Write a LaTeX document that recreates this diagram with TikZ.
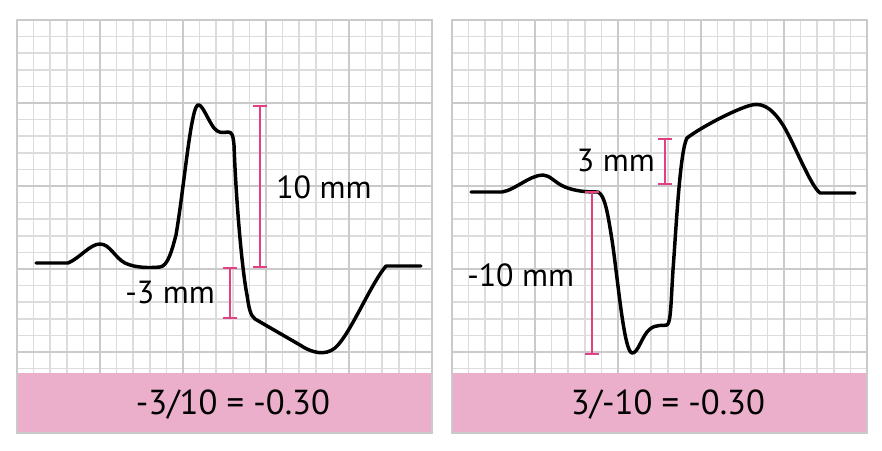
\documentclass[tikz,border=0pt]{standalone}
\usepackage{fontspec}
\setmainfont{PT Sans}
\usepackage{tikz}
\usepackage{xcolor}

\definecolor{gridminor}{RGB}{220,220,220}
\definecolor{gridmajor}{RGB}{202,202,202}
\definecolor{bandpink}{RGB}{235,175,203}
\definecolor{barpink}{RGB}{226,64,130}

\tikzset{
  minorln/.style={draw=gridminor, line width=1.1},
  majorln/.style={draw=gridmajor, line width=1.7},
  trace/.style={draw=black, line width=2.6, line join=round, line cap=round},
  mmbar/.style={draw=barpink, line width=2.1},
  lbl/.style={inner sep=0.75pt, font=\fontsize{24}{28}\selectfont},
  ratiolbl/.style={inner sep=0.75pt, font=\fontsize{26}{30}\selectfont}
}

\begin{document}
\begin{tikzpicture}[x=0.75pt,y=0.75pt,yscale=-1,xscale=1]
\useasboundingbox (0,0) rectangle (882,450);

% grid paper, both panels
\foreach \ox in {17,452}{
  \foreach \i in {0,...,25} \draw[minorln] (\ox+\i*16.6,20) -- (\ox+\i*16.6,373);
  \foreach \j in {0,...,21} \draw[minorln] (\ox,20+\j*16.6) -- (\ox+415,20+\j*16.6);
  \foreach \i in {1,...,4} \draw[majorln] (\ox+\i*83,20) -- (\ox+\i*83,373);
  \foreach \j in {1,...,4} \draw[majorln] (\ox,20+\j*83) -- (\ox+415,20+\j*83);
  %Shape: Rectangle (band)
  \fill[bandpink] (\ox,373) rectangle (\ox+415,433);
  \draw[majorln] (\ox,20) rectangle (\ox+415,433);
}

%Curve: left trace
\draw[trace] (36,263) -- (68,263) .. controls (80,258) and (90,244) .. (100,244) .. controls (110,244) and (115,258) .. (125,263) .. controls (135,268) and (150,268) .. (160,267) .. controls (168,266) and (172,250) .. (176,235) .. controls (182,200) and (188,140) .. (193,118) .. controls (195,108) and (197,104) .. (199,105) .. controls (203,106) and (208,120) .. (214,128) .. controls (218,133) and (222,133) .. (228,132) .. controls (232,132) and (233,135) .. (234,145) .. controls (236,200) and (242,270) .. (247,295) .. controls (249,308) and (250,315) .. (255,319) -- (300,345) .. controls (312,353) and (325,356) .. (335,348) .. controls (350,335) and (370,285) .. (386,266) -- (421,266) ;

%Curve: right trace
\draw[trace] (471,192) -- (502,192) .. controls (515,190) and (530,175) .. (543,175) .. controls (550,175) and (555,183) .. (565,187) .. controls (575,191) and (585,192) .. (598,192) .. controls (605,195) and (608,215) .. (612,240) .. controls (618,280) and (624,352) .. (632,353) .. controls (638,354) and (642,335) .. (650,329) .. controls (656,324) and (664,326) .. (667,325) .. controls (671,323) and (671,300) .. (673,270) .. controls (676,230) and (680,150) .. (687,138) .. controls (700,128) and (730,112) .. (748,106) .. controls (760,102) and (770,105) .. (783,125) .. controls (795,145) and (810,185) .. (820,193) -- (855,193) ;

%Measure bars
\draw[mmbar] (260,106) -- (260,267) (253,106) -- (267,106) (253,267) -- (267,267) ;
\draw[mmbar] (230,268) -- (230,318) (223,268) -- (237,268) (223,318) -- (237,318) ;
\draw[mmbar] (665,139) -- (665,184) (658,139) -- (672,139) (658,184) -- (672,184) ;
\draw[mmbar] (592,192) -- (592,354) (585,192) -- (599,192) (585,354) -- (599,354) ;

% Text Node
\node[lbl, anchor=west] (upten) at (275,187) {10 mm};
% Text Node
\node[lbl, anchor=east] (stleft) at (216,292) {-3 mm};
% Text Node
\node[lbl, anchor=east] (stright) at (656,160) {3 mm};
% Text Node
\node[lbl, anchor=west] (downten) at (466,275) {-10 mm};
% Text Node
\node[ratiolbl] (ratioleft) at (233,405) {-3/10 = -0.30};
% Text Node
\node[ratiolbl] (ratioright) at (668,405) {3/-10 = -0.30};

\end{tikzpicture}
\end{document}
